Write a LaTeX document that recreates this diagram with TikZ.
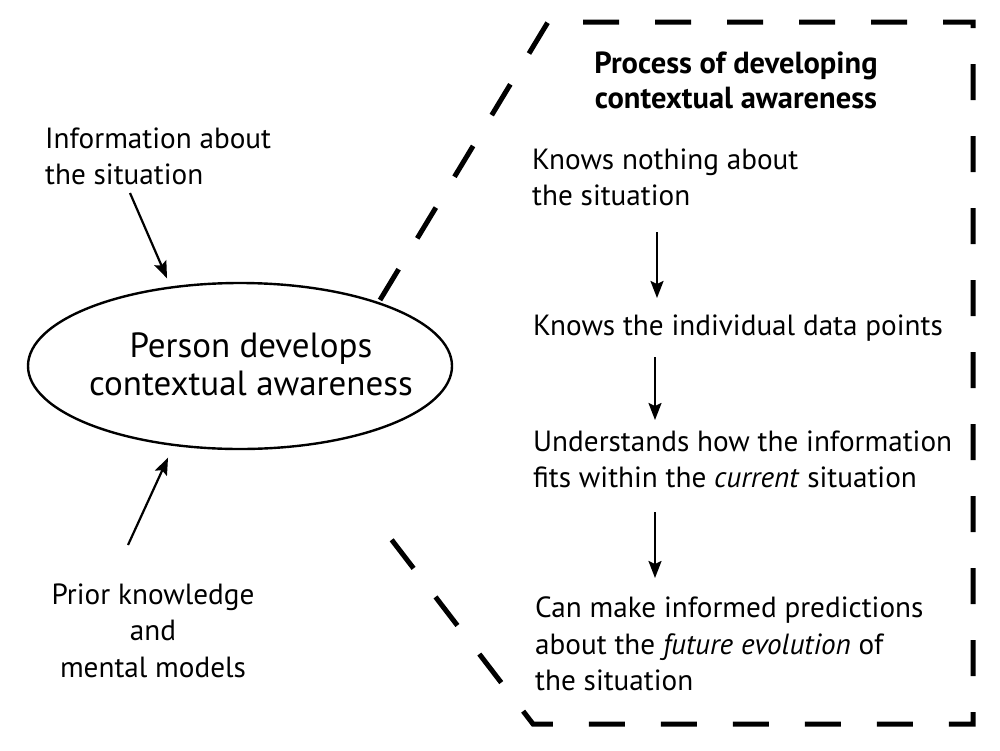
\documentclass[tikz,border=0pt]{standalone}
\usepackage{fontspec}
\setmainfont{PT Sans}
\usetikzlibrary{arrows.meta,shapes.geometric}
\begin{document}
\begin{tikzpicture}[x=1pt,y=-1pt,
  txt/.style={inner sep=0pt,font=\fontsize{29.2}{36.5}\selectfont},
  ltxt/.style={txt,align=left,anchor=north west},
  arr/.style={line width=2.2pt,-{Stealth[length=17pt,width=13pt,inset=3pt]}},
  frame/.style={line width=5pt,dash pattern=on 36pt off 36pt}]
\useasboundingbox (0,0) rectangle (1000,750);
% left side
\node[ltxt] (info) at (45,127.5) {Information about\\the situation};
\node[draw,ellipse,line width=2.4pt,minimum width=424pt,minimum height=166pt,inner sep=0pt] (ell) at (240,366) {};
\node[txt,align=center,font=\fontsize{35}{38}\selectfont] (elltxt) at (251,364.5) {Person develops\\contextual awareness};
\node[txt,align=center,anchor=north] (prior) at (153,583.5) {Prior knowledge\\and\\mental models};
\coordinate (infoend) at (130,193);
\coordinate (priorend) at (128,545);
\draw[arr] (infoend) -- ([shift={(3,-9)}]ell.134);
\draw[arr] (priorend) -- ([shift={(4,13)}]ell.226);
% dashed frame
\draw[frame] (380,300) -- (548,22) -- (973,22) -- (973,724) -- (533,724) -- (378,522);
% right side
\node[txt,align=center,font=\fontsize{30.5}{35}\selectfont\bfseries] (title) at (736,80) {Process of developing\\contextual awareness};
\node[ltxt] (s1) at (532,148.5) {Knows nothing about\\the situation};
\node[ltxt] (s2) at (533,314.5) {Knows the individual data points};
\node[ltxt] (s3) at (533,430.5) {Understands how the information\\fits within the \textit{current} situation};
\node[ltxt] (s4) at (535,596.5) {Can make informed predictions\\about the \textit{future evolution} of\\the situation};
\draw[arr] (657,232) -- (657,298);
\draw[arr] (655,357) -- (655,420);
\draw[arr] (655,512) -- (655,578);
\end{tikzpicture}
\end{document}
